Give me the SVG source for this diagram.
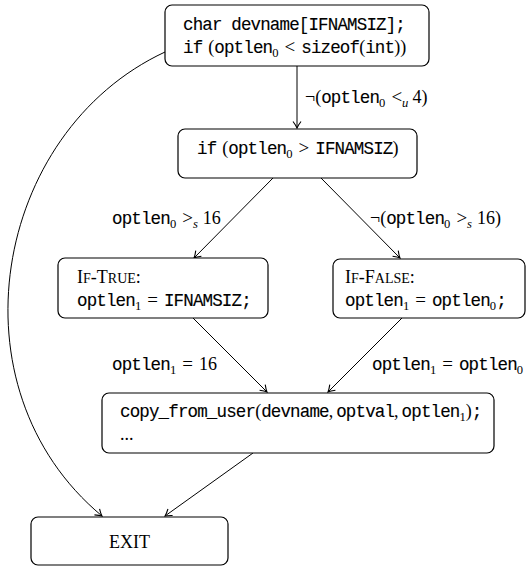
<svg xmlns="http://www.w3.org/2000/svg" width="527" height="567" viewBox="0 0 527 567">
<style>
.box{fill:#fff;stroke:#000;stroke-width:1.2}
.edge{fill:none;stroke:#000;stroke-width:1}
text{font-family:"Liberation Serif","Times New Roman",serif;font-size:18px;fill:#000}
.tt{font-family:"Liberation Mono","Courier New",monospace;font-size:17.5px;letter-spacing:-0.85px;stroke:#000;stroke-width:0.12}
.sub{font-size:12.6px}
.it{font-style:italic}
.sc{font-size:14px}
.rel{font-size:19px}
</style>
<defs>
<marker id="arr" viewBox="-8 -5 9 10" refX="0" refY="0" markerWidth="9" markerHeight="10" markerUnits="userSpaceOnUse" orient="auto">
<path d="M-6.5,-4 Q-2.5,-1 0,0 Q-2.5,1 -6.5,4" fill="none" stroke="#000" stroke-width="1.1"/>
</marker>
</defs>
<g id="connectors">
<path class="edge" d="M297,66 L297,128" marker-end="url(#arr)"/>
<path class="edge" d="M273,178 L194,258" marker-end="url(#arr)"/>
<path class="edge" d="M321,178 L400,258" marker-end="url(#arr)"/>
<path class="edge" d="M193,318 L267,392" marker-end="url(#arr)"/>
<path class="edge" d="M402,318 L328,392" marker-end="url(#arr)"/>
<path class="edge" d="M253,453 L165,516" marker-end="url(#arr)"/>
<path class="edge" d="M165,52 C-7,132 -52,388 102,516" marker-end="url(#arr)"/>
<text x="305" y="103">¬(<tspan class="tt">optlen</tspan><tspan class="sub" dy="4">0</tspan><tspan class="rel" dy="-4" dx="6">&lt;</tspan><tspan class="sub it" dy="4">u</tspan><tspan dy="-4" dx="4">4)</tspan></text>
<text x="112" y="224"><tspan class="tt">optlen</tspan><tspan class="sub" dy="4">0</tspan><tspan class="rel" dy="-4" dx="6">&gt;</tspan><tspan class="sub it" dy="4">s</tspan><tspan dy="-4" dx="5">16</tspan></text>
<text x="370" y="224">¬(<tspan class="tt">optlen</tspan><tspan class="sub" dy="4">0</tspan><tspan class="rel" dy="-4" dx="6">&gt;</tspan><tspan class="sub it" dy="4">s</tspan><tspan dy="-4" dx="5">16)</tspan></text>
<text x="112" y="370"><tspan class="tt">optlen</tspan><tspan class="sub" dy="4">1</tspan><tspan class="rel" dy="-4" dx="6">=</tspan><tspan dx="6">16</tspan></text>
<text x="372" y="370"><tspan class="tt">optlen</tspan><tspan class="sub" dy="4">1</tspan><tspan class="rel" dy="-4" dx="6">=</tspan><tspan class="tt" dx="6">optlen</tspan><tspan class="sub" dy="4">0</tspan></text>
</g>
<g id="n_top">
<rect class="box" x="165" y="5" width="264" height="61" rx="7"/>
<text x="183" y="30"><tspan class="tt">char devname[IFNAMSIZ];</tspan></text>
<text x="183" y="53"><tspan class="tt">if</tspan><tspan dx="6">(</tspan><tspan class="tt">optlen</tspan><tspan class="sub" dy="4">0</tspan><tspan class="rel" dy="-4" dx="6">&lt;</tspan><tspan class="tt" dx="6">sizeof</tspan>(<tspan class="tt">int</tspan>))</text>
</g>
<g id="n_cond">
<rect class="box" x="178" y="129" width="239" height="49" rx="7"/>
<text x="197" y="154"><tspan class="tt">if</tspan><tspan dx="6">(</tspan><tspan class="tt">optlen</tspan><tspan class="sub" dy="4">0</tspan><tspan class="rel" dy="-4" dx="6">&gt;</tspan><tspan class="tt" dx="6">IFNAMSIZ</tspan>)</text>
</g>
<g id="n_true">
<rect class="box" x="58" y="258" width="210" height="60" rx="7"/>
<text x="77" y="283">I<tspan class="sc">F</tspan>-T<tspan class="sc">RUE</tspan>:</text>
<text x="77" y="306"><tspan class="tt">optlen</tspan><tspan class="sub" dy="4">1</tspan><tspan class="rel" dy="-4" dx="6">=</tspan><tspan class="tt" dx="6">IFNAMSIZ;</tspan></text>
</g>
<g id="n_false">
<rect class="box" x="333" y="259" width="192" height="59" rx="7"/>
<text x="345" y="283">I<tspan class="sc">F</tspan>-F<tspan class="sc">ALSE</tspan>:</text>
<text x="345" y="306"><tspan class="tt">optlen</tspan><tspan class="sub" dy="4">1</tspan><tspan class="rel" dy="-4" dx="6">=</tspan><tspan class="tt" dx="6">optlen</tspan><tspan class="sub" dy="4">0</tspan><tspan class="tt" dy="-4">;</tspan></text>
</g>
<g id="n_copy">
<rect class="box" x="102" y="393" width="392" height="60" rx="7"/>
<text x="120" y="417"><tspan class="tt">copy_from_user</tspan>(<tspan class="tt">devname</tspan>,<tspan class="tt" dx="3">optval</tspan>,<tspan class="tt" dx="3">optlen</tspan><tspan class="sub" dy="4">1</tspan><tspan dy="-4">)</tspan><tspan class="tt">;</tspan></text>
<text x="120" y="440">...</text>
</g>
<g id="n_exit">
<rect class="box" x="31" y="517" width="197" height="48" rx="7"/>
<text x="129.5" y="548" text-anchor="middle">EXIT</text>
</g>
</svg>
